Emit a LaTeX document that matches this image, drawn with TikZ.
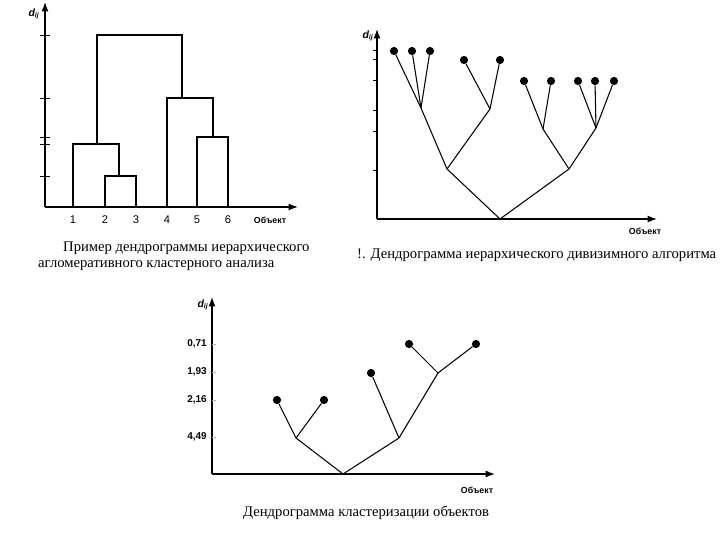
\documentclass[tikz,border=0pt]{standalone}
\usepackage{fontspec}
\setmainfont{Liberation Serif}
\newfontfamily\axisfont{Liberation Sans}
\usetikzlibrary{arrows.meta}

\tikzset{
  axis/.style={line width=1.1pt, -{Latex[length=8pt,width=6pt]}},
  branch/.style={line width=0.9pt},
  leaf/.style={circle, fill=black, inner sep=0pt, minimum size=7pt},
  objlabel/.style={font=\axisfont\bfseries\fontsize{7.5}{8}\selectfont, inner sep=0pt},
  valuelabel/.style={font=\axisfont\bfseries\fontsize{8.5}{9}\selectfont, inner sep=0pt, anchor=east},
  numlabel/.style={font=\axisfont\fontsize{9.5}{10}\selectfont, inner sep=0pt},
  dlabel/.style={font=\axisfont\bfseries\itshape\fontsize{9}{9}\selectfont, inner sep=0pt},
  captext/.style={font=\fontsize{12.5}{14}\selectfont, inner sep=0pt, anchor=west},
}

\begin{document}
\begin{tikzpicture}[x=0.03cm,y=-0.03cm]
    \useasboundingbox (0,0) rectangle (720,540);

    % ---------- agglomerative dendrogram ----------
    % draw axes
    \coordinate (oa) at (45,207);
    \coordinate (ya) at (45,2);
    \coordinate (xa) at (298,207);
    \draw[axis] (oa) -- (ya);
    \draw[axis] (oa) -- (xa);
    \node[dlabel] (da) at (34,14) {d\textsubscript{ij}};
    \node[objlabel] (obja) at (270,220) {Объект};

    % draw ticks
    \foreach \y in {35,98,137,144,176}
    \draw (40,\y) -- (50,\y);

    % draw leaves
    \foreach \n/\x in {1/73,2/105,3/136,4/167,5/197,6/228} {
        \coordinate (a\n) at (\x,207);
        \node[numlabel] (na\n) at (\x,220) {\n};
    }

    % draw merges
    \coordinate (a23) at (119,176);
    \coordinate (a123) at (97,144);
    \coordinate (a56) at (213,137);
    \coordinate (a456) at (182,98);
    \coordinate (atop) at (140,35);
    \draw[branch] (a2) |- (a23) -| (a3);
    \draw[branch] (a1) |- (a123) -| (a23);
    \draw[branch] (a5) |- (a56) -| (a6);
    \draw[branch] (a4) |- (a456) -| (a56);
    \draw[branch] (a123) |- (atop) -| (a456);

    \node[captext] (capa) at (63,248) {Пример дендрограммы иерархического};
    \node[captext] (capb) at (38,266) {агломеративного кластерного анализа};

    % ---------- divisive dendrogram ----------
    % draw axes
    \coordinate (ob) at (377,219);
    \coordinate (yb) at (377,29);
    \coordinate (xb) at (657,219);
    \draw[axis] (ob) -- (yb);
    \draw[axis] (ob) -- (xb);
    \node[dlabel] (db) at (368,36) {d\textsubscript{ij}};
    \node[objlabel] (objb) at (645,231) {Объект};

    % draw ticks
    \foreach \y in {50,59,80,110,131,170}
    \draw (373,\y) -- (377,\y);

    % draw branches
    \coordinate (root) at (500,219);
    \coordinate (bl) at (447,169);
    \coordinate (br) at (569,169);
    \coordinate (bll) at (421,108);
    \coordinate (blr) at (490,109);
    \coordinate (brl) at (543,129);
    \coordinate (brr) at (596,128);
    \draw[branch] (bll) -- (bl) -- (root) -- (br) -- (brr);
    \draw[branch] (bl) -- (blr);
    \draw[branch] (br) -- (brl);

    \foreach \i/\x/\y/\p in {1/394/51/bll,2/412/51/bll,3/430/51/bll,
                             4/464/60/blr,5/500/60/blr,
                             6/524/81/brl,7/551/81/brl,
                             8/578/81/brr,9/595/81/brr,10/614/81/brr} {
        \node[leaf] (b\i) at (\x,\y) {};
        \draw[branch] (\p) -- (b\i);
    }

    \node[captext] (capc) at (357,255) {!. Дендрограмма иерархического дивизимного алгоритма};

    % ---------- clustering of objects ----------
    % draw axes
    \coordinate (oc) at (212,474);
    \coordinate (yc) at (212,297);
    \coordinate (xc) at (495,474);
    \draw[axis] (oc) -- (yc);
    \draw[axis] (oc) -- (xc);
    \node[dlabel] (dc) at (203,305) {d\textsubscript{ij}};
    \node[objlabel] (objc) at (477,490) {Объект};

    % draw ticks and values
    \foreach \v/\y in {{0,71}/344,{1,93}/372,{2,16}/400,{4,49}/437} {
        \draw[gray!60] (212,\y) -- (216,\y);
        \node[valuelabel] at (207,\y) {\v};
    }

    % draw branches
    \coordinate (croot) at (343,474);
    \coordinate (cl) at (296,438);
    \coordinate (cr) at (399,438);
    \coordinate (crr) at (438,373);
    \draw[branch] (cl) -- (croot) -- (cr) -- (crr);

    \foreach \i/\x/\y/\p in {1/277/400/cl,2/324/400/cl,3/371/373/cr,
                             4/409/344/crr,5/476/344/crr} {
        \node[leaf] (c\i) at (\x,\y) {};
        \draw[branch] (\p) -- (c\i);
    }

    \node[captext] (capd) at (243,513) {Дендрограмма кластеризации объектов};
\end{tikzpicture}
\end{document}
